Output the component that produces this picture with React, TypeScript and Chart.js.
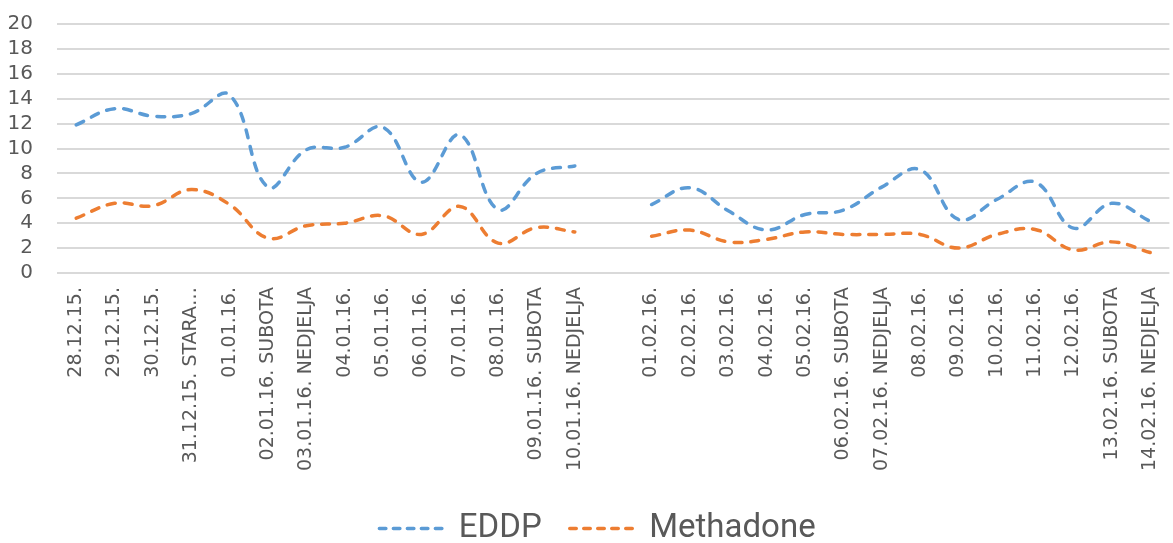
import React, { useEffect, useRef } from "react";
import { Chart, registerables } from "chart.js";

Chart.register(...registerables);

const categories: string[] = [
  "28.12.15.", "29.12.15.", "30.12.15.", "31.12.15. STARA…", "01.01.16.",
  "02.01.16. SUBOTA", "03.01.16. NEDJELJA", "04.01.16.", "05.01.16.", "06.01.16.",
  "07.01.16.", "08.01.16.", "09.01.16. SUBOTA", "10.01.16. NEDJELJA", "",
  "01.02.16.", "02.02.16.", "03.02.16.", "04.02.16.", "05.02.16.",
  "06.02.16. SUBOTA", "07.02.16. NEDJELJA", "08.02.16.", "09.02.16.", "10.02.16.",
  "11.02.16.", "12.02.16.", "13.02.16. SUBOTA", "14.02.16. NEDJELJA",
];

const eddp: (number | null)[] = [
  11.9, 13.2, 12.6, 12.8, 14.3, 6.9, 9.9, 10.1, 11.7, 7.3, 11.1, 5.1, 8.0, 8.6,
  null,
  5.5, 6.85, 5.0, 3.45, 4.7, 5.05, 6.9, 8.3, 4.3, 5.9, 7.3, 3.6, 5.6, 4.15,
];

const methadone: (number | null)[] = [
  4.4, 5.6, 5.4, 6.7, 5.5, 2.8, 3.8, 4.0, 4.6, 3.1, 5.35, 2.4, 3.65, 3.3,
  null,
  2.95, 3.45, 2.5, 2.7, 3.3, 3.1, 3.1, 3.1, 2.0, 3.1, 3.5, 1.85, 2.5, 1.65,
];

const yTicks = { min: 0, max: 20, step: 2 };

const LINE_WIDTH = 3.5;
const DASH = [8, 9];
const LEGEND_DASH = [6.5, 7.5];

const legendShift = {
  id: "legendShift",
  afterLayout(chart: any) {
    if (chart.legend) {
      chart.legend.left += 11;
      chart.legend.right += 11;
    }
  },
};

export default function App() {
  const ref = useRef<HTMLCanvasElement | null>(null);

  useEffect(() => {
    document.body.style.margin = "0";
    const canvas = ref.current;
    if (!canvas) return;
    const tickColor = "#595959";
    const defaultGen = (Chart as any).defaults.plugins.legend.labels.generateLabels;
    const chart = new Chart(canvas, {
      type: "line",
      data: {
        labels: categories,
        datasets: [
          {
            label: "EDDP",
            data: eddp,
            borderColor: "#5B9BD5",
            backgroundColor: "#5B9BD5",
            borderWidth: LINE_WIDTH,
            borderDash: DASH,
            borderCapStyle: "round",
            tension: 0.4,
            pointRadius: 0,
            pointHoverRadius: 0,
            spanGaps: false,
            fill: false,
          },
          {
            label: "Methadone",
            data: methadone,
            borderColor: "#ED7D31",
            backgroundColor: "#ED7D31",
            borderWidth: LINE_WIDTH,
            borderDash: DASH,
            borderCapStyle: "round",
            tension: 0.4,
            pointRadius: 0,
            pointHoverRadius: 0,
            spanGaps: false,
            fill: false,
          },
        ],
      },
      plugins: [legendShift],
      options: {
        animation: false,
        responsive: true,
        maintainAspectRatio: false,
        layout: { padding: { top: 24, right: 0, left: 0, bottom: -12 } },
        plugins: {
          tooltip: { enabled: false },
          legend: {
            position: "bottom",
            labels: {
              usePointStyle: true,
              pointStyle: "line",
              pointStyleWidth: 63,
              boxHeight: 30,
              padding: 28,
              color: tickColor,
              font: { family: "Roboto", size: 33 },
              generateLabels: (c: any) =>
                defaultGen(c).map((item: any) => ({
                  ...item,
                  lineDash: LEGEND_DASH,
                  lineWidth: LINE_WIDTH,
                  lineCap: "round",
                  strokeStyle: c.data.datasets[item.datasetIndex].borderColor,
                })),
            },
          },
        },
        scales: {
          x: {
            type: "category",
            offset: true,
            grid: { display: false, drawTicks: true, tickLength: 14 },
            border: { display: false },
            ticks: {
              autoSkip: false,
              minRotation: 90,
              maxRotation: 90,
              padding: 0,
              color: tickColor,
              font: { family: "DejaVu Sans", size: 19 },
            },
            afterFit: (scale: any) => {
              scale.height = 211;
            },
          },
          y: {
            min: yTicks.min,
            max: yTicks.max,
            grid: {
              color: "#d9d9d9",
              lineWidth: 2,
              drawTicks: true,
              tickLength: 24,
              tickColor: "rgba(0,0,0,0)",
            },
            border: { display: false },
            ticks: {
              stepSize: yTicks.step,
              autoSkip: false,
              padding: 0,
              color: tickColor,
              font: { family: "DejaVu Sans", size: 20 },
            },
            afterFit: (scale: any) => {
              scale.width = 57;
            },
          },
        },
      },
    });
    return () => chart.destroy();
  }, []);

  return (
    <div style={{ width: 1173, height: 543, position: "relative" }}>
      <canvas ref={ref} />
    </div>
  );
}
